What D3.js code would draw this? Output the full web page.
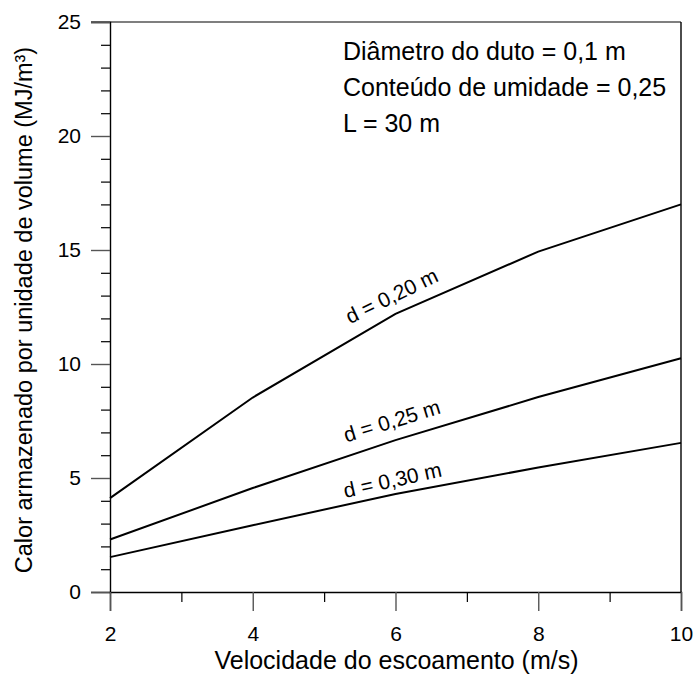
<!DOCTYPE html>
<html>
<head>
<meta charset="utf-8">
<script src="https://cdnjs.cloudflare.com/ajax/libs/d3/7.8.5/d3.min.js"></script>
<style>
body{margin:0;background:#fff;}
text{font-family:"Liberation Sans",Arial,Helvetica,sans-serif;fill:#000;}
</style>
</head>
<body>
<div id="viz"></div>
<script>
// data
var velocidade = [2, 4, 6, 8, 10];
var d020 = [4.12, 8.53, 12.2, 14.93, 17.0];
var d025 = [2.3, 4.56, 6.66, 8.55, 10.25];
var d030 = [1.53, 2.93, 4.3, 5.46, 6.54];
var seriesLabels = ['d = 0,20 m', 'd = 0,25 m', 'd = 0,30 m'];
var xTicks = [2, 4, 6, 8, 10];
var yTicks = [0, 5, 10, 15, 20, 25];
var notes = ['Diâmetro do duto = 0,1 m', 'Conteúdo de umidade = 0,25', 'L = 30 m'];

var W = 695, H = 675;
var mLeft = 110, mRight = 681, mTop = 22, mBottom = 592;

var svg = d3.select('#viz').append('svg')
    .attr('width', W)
    .attr('height', H);

var x = d3.scaleLinear().domain([2, 10]).range([mLeft, mRight]);
var y = d3.scaleLinear().domain([0, 25]).range([mBottom, mTop]);

// frame top + right
svg.append('line').attr('x1', mLeft - 19).attr('x2', mRight).attr('y1', mTop).attr('y2', mTop)
    .style('stroke', '#555').style('stroke-width', 1.4);
svg.append('line').attr('x1', mRight).attr('x2', mRight).attr('y1', mTop).attr('y2', mBottom)
    .style('stroke', '#000').style('stroke-width', 1.4);

// y axis
var yAxis = d3.axisLeft(y).tickValues(yTicks).tickSize(19).tickPadding(10);
var gy = svg.append('g').attr('transform', 'translate(' + mLeft + ',0)').call(yAxis);
gy.attr('font-family', null).attr('font-size', null);
gy.select('.domain').style('stroke', '#000').style('stroke-width', 1.4);
gy.selectAll('.tick line').style('stroke', '#555').style('stroke-width', 1.4);
gy.selectAll('.tick text').style('font-size', '21px');

var yMinor = d3.axisLeft(y).tickValues(d3.range(0, 25, 1).filter(function(v){ return v % 5 != 0; }))
    .tickSize(9).tickFormat('');
var gym = svg.append('g').attr('transform', 'translate(' + mLeft + ',0)').call(yMinor);
gym.select('.domain').remove();
gym.selectAll('.tick line').style('stroke', '#000').style('stroke-width', 1.2);

// x axis
var xAxis = d3.axisBottom(x).tickValues(xTicks).tickSize(19).tickPadding(15);
var gx = svg.append('g').attr('transform', 'translate(0,' + mBottom + ')').call(xAxis);
gx.attr('font-family', null).attr('font-size', null);
gx.select('.domain').style('stroke', '#000').style('stroke-width', 1.4);
gx.selectAll('.tick line').style('stroke', '#555').style('stroke-width', 1.4);
gx.selectAll('.tick text').style('font-size', '21px');

var xMinor = d3.axisBottom(x).tickValues([3, 5, 7, 9]).tickSize(10).tickFormat('');
var gxm = svg.append('g').attr('transform', 'translate(0,' + mBottom + ')').call(xMinor);
gxm.select('.domain').remove();
gxm.selectAll('.tick line').style('stroke', '#000').style('stroke-width', 1.2);

// axis titles
svg.append('text')
    .attr('x', (mLeft + mRight) / 2 + 1)
    .attr('y', 669)
    .attr('text-anchor', 'middle')
    .style('font-size', '25px')
    .text('Velocidade do escoamento (m/s)');

svg.append('text')
    .attr('transform', 'translate(32,310) rotate(-90)')
    .attr('text-anchor', 'middle')
    .style('font-size', '23.5px')
    .text('Calor armazenado por unidade de volume (MJ/m³)');

// lines
var line = d3.line()
    .x(function(d){ return x(d[0]); })
    .y(function(d){ return y(d[1]); });

[d020, d025, d030].forEach(function(vals){
    svg.append('path')
        .datum(velocidade.map(function(v, i){ return [v, vals[i]]; }))
        .attr('d', line)
        .style('fill', 'none')
        .style('stroke', '#000')
        .style('stroke-width', 2);
});

// curve labels
var labelPos = [[5.99, 12.7, -26], [5.98, 7.2, -17], [5.98, 4.6, -12.5]];
labelPos.forEach(function(p, i){
    svg.append('text')
        .attr('transform', 'translate(' + x(p[0]) + ',' + y(p[1]) + ') rotate(' + p[2] + ')')
        .attr('text-anchor', 'middle')
        .style('font-size', '21px')
        .text(seriesLabels[i]);
});

// notes
svg.selectAll('.note').data(notes).enter().append('text')
    .attr('class', 'note')
    .attr('x', 343)
    .attr('y', function(d, i){ return 60 + i * 36; })
    .style('font-size', '25px')
    .text(function(d){ return d; });
</script>
</body>
</html>
